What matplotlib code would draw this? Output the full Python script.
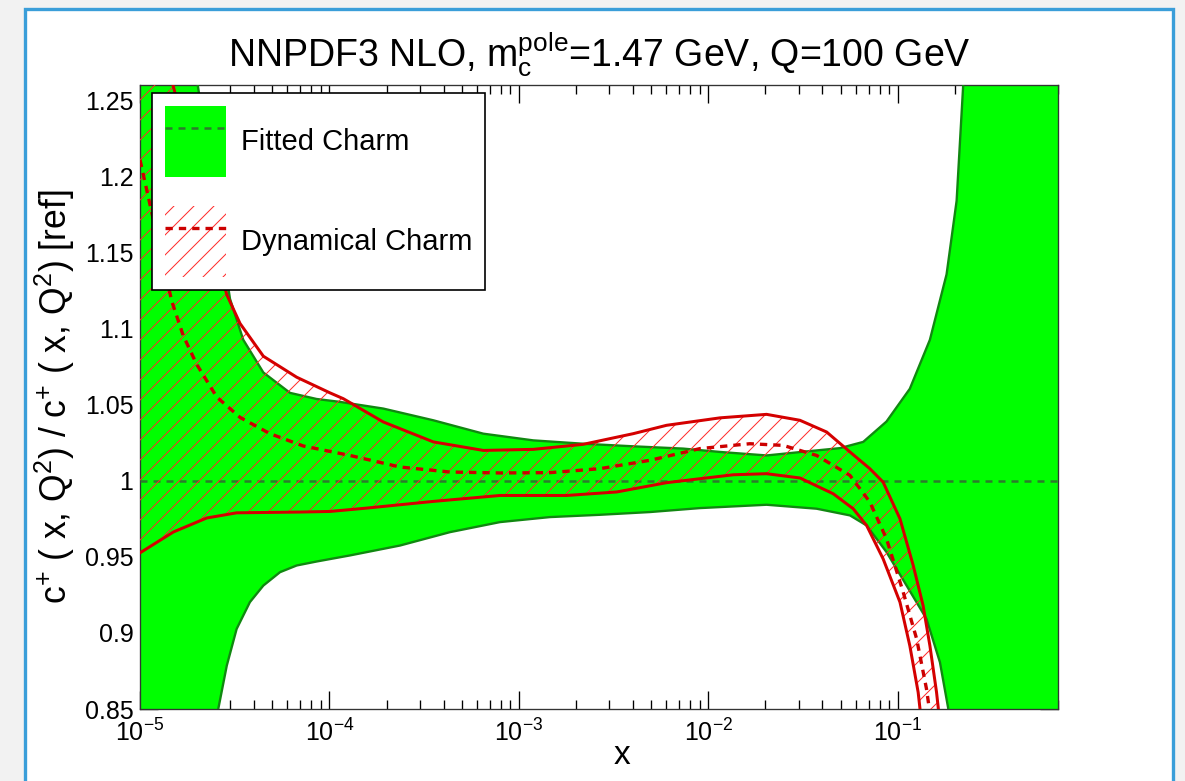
import numpy as np
import matplotlib.pyplot as plt
from matplotlib.patches import Patch, Rectangle
from matplotlib.lines import Line2D
from matplotlib.ticker import FixedLocator, FixedFormatter

plt.rcParams['font.family'] = ['Liberation Sans', 'DejaVu Sans']
plt.rcParams['mathtext.fontset'] = 'custom'
plt.rcParams['mathtext.rm'] = 'Liberation Sans'
plt.rcParams['mathtext.it'] = 'Liberation Sans:italic'
plt.rcParams['mathtext.bf'] = 'Liberation Sans:bold'
plt.rcParams['hatch.linewidth'] = 0.6

# ---- data (log10 x, ratio to ref) ----
# fitted charm band (upper / lower edge), central = 1
fit_hi_logx = [-5.0, -4.694, -4.525, -4.455, -4.349, -4.208, -4.068, -3.945, -3.716, -3.452,
               -3.188, -2.924, -2.661, -2.397, -2.133, -1.939, -1.693, -1.429, -1.306, -1.183,
               -1.060, -0.937, -0.831, -0.743, -0.690, -0.655, -0.62, -0.15]
fit_hi = [1.45, 1.259, 1.1195, 1.0926, 1.0711, 1.0577, 1.0537, 1.0518, 1.0474, 1.0397,
          1.0309, 1.0265, 1.0243, 1.0226, 1.0211, 1.0189, 1.0166, 1.0199, 1.0214, 1.0255,
          1.0389, 1.0604, 1.0926, 1.1356, 1.1839, 1.2605, 1.35, 1.60]

fit_lo_logx = [-5.0, -4.62, -4.587, -4.542, -4.490, -4.420, -4.349, -4.261, -4.173, -4.068,
               -3.892, -3.628, -3.364, -3.100, -2.836, -2.573, -2.309, -2.045, -1.693, -1.429,
               -1.253, -1.165, -1.060, -0.954, -0.849, -0.778, -0.735, -0.70, -0.15]
fit_lo = [0.60, 0.80, 0.85, 0.8785, 0.9026, 0.9202, 0.9311, 0.9399, 0.9443, 0.9469,
          0.9509, 0.9574, 0.9662, 0.9728, 0.9761, 0.9776, 0.9794, 0.9820, 0.9842, 0.9816,
          0.9772, 0.9706, 0.9531, 0.9311, 0.9092, 0.8807, 0.8509, 0.82, 0.50]

fit_cv_logx = [-5.0, -0.15]
fit_cv = [1.0, 1.0]

# dynamical charm band
dyn_hi_logx = [-5.0, -4.826, -4.542, -4.472, -4.349, -4.173, -3.997, -3.927, -3.716, -3.452,
               -3.188, -2.924, -2.661, -2.397, -2.221, -1.939, -1.693, -1.517, -1.376, -1.253,
               -1.148, -1.078, -0.989, -0.919, -0.867, -0.831, -0.796, -0.787, -0.75]
dyn_hi = [1.45, 1.26, 1.1222, 1.1033, 1.0818, 1.068, 1.0577, 1.0539, 1.0386, 1.0255,
          1.0199, 1.0206, 1.0239, 1.0309, 1.0364, 1.0413, 1.0436, 1.0397, 1.0320, 1.0189,
          1.0079, 0.9991, 0.9750, 0.9443, 0.9180, 0.8916, 0.8610, 0.8509, 0.80]

dyn_lo_logx = [-5.0, -4.824, -4.648, -4.490, -4.156, -3.997, -3.804, -3.452, -3.100, -2.748,
               -2.484, -2.221, -2.045, -1.869, -1.693, -1.517, -1.341, -1.236, -1.165, -1.078,
               -0.989, -0.937, -0.893, -0.884, -0.80]
dyn_lo = [0.9526, 0.9663, 0.9755, 0.9789, 0.9794, 0.9798, 0.9820, 0.9864, 0.9903, 0.9903,
          0.9926, 0.9987, 1.0013, 1.0039, 1.0046, 1.0018, 0.9914, 0.9816, 0.9706, 0.9487,
          0.9202, 0.8916, 0.8610, 0.8509, 0.75]

dyn_cv_logx = [-5.0, -4.947, -4.833, -4.772, -4.701, -4.595, -4.472, -4.314, -4.138, -3.892,
               -3.628, -3.364, -3.100, -2.836, -2.573, -2.309, -2.045, -1.781, -1.605, -1.429,
               -1.253, -1.148, -1.060, -0.972, -0.901, -0.849, -0.80]
dyn_cv = [1.2108, 1.1813, 1.1182, 1.0954, 1.0765, 1.0550, 1.0416, 1.0309, 1.0228, 1.0166,
          1.0090, 1.0057, 1.0051, 1.0053, 1.0079, 1.0134, 1.0211, 1.0243, 1.0232, 1.0166,
          1.0035, 0.9860, 0.9618, 0.9268, 0.8961, 0.8632, 0.82]

y_ticks = [0.85, 0.9, 0.95, 1.0, 1.05, 1.1, 1.15, 1.2, 1.25]
y_ticklabels = ['0.85', '0.9', '0.95', '1', '1.05', '1.1', '1.15', '1.2', '1.25']

labels = ['Fitted Charm', 'Dynamical Charm']

# colours
green = '#00ff00'
green_edge = '#118811'
green_dash = '#2d7a2d'
red = '#d40000'
red_hatch = '#ff2a2a'

def xs(lx):
    return 10 ** np.array(lx)

fig = plt.figure(figsize=(1185 / 120, 781 / 120), dpi=120, facecolor='#f2f2f2')
fig.add_artist(Rectangle((25 / 1185, -0.05), 1148 / 1185, 772 / 781 + 0.05,
                         transform=fig.transFigure, fc='white', ec='#3a9ed9', lw=2.0, zorder=0))
ax = fig.add_axes([140 / 1185, 72 / 781, 918 / 1185, 624 / 781])

# fitted band
ax.fill(np.concatenate([xs(fit_hi_logx), xs(fit_lo_logx)[::-1]]),
        np.concatenate([fit_hi, fit_lo[::-1]]), color=green, lw=0, zorder=2)
ax.plot(xs(fit_hi_logx), fit_hi, color=green_edge, lw=1.4, zorder=3)
ax.plot(xs(fit_lo_logx), fit_lo, color=green_edge, lw=1.4, zorder=3)
ax.plot(xs(fit_cv_logx), fit_cv, color=green_dash, lw=1.5, ls=(0, (2.8, 2.4)), zorder=3.5)

# dynamical band
ax.fill(np.concatenate([xs(dyn_hi_logx), xs(dyn_lo_logx)[::-1]]),
        np.concatenate([dyn_hi, dyn_lo[::-1]]), facecolor='none', edgecolor=red_hatch,
        hatch='//', lw=0, zorder=4)
ax.plot(xs(dyn_hi_logx), dyn_hi, color=red, lw=1.8, zorder=5)
ax.plot(xs(dyn_lo_logx), dyn_lo, color=red, lw=1.8, zorder=5)
ax.plot(xs(dyn_cv_logx), dyn_cv, color='#cc0000', lw=2.0, ls=(0, (2.2, 1.8)), zorder=5)

ax.set_xscale('log')
ax.set_xlim(1e-5, 0.7)
ax.set_ylim(0.85, 1.26)
ax.yaxis.set_major_locator(FixedLocator(y_ticks))
ax.yaxis.set_major_formatter(FixedFormatter(y_ticklabels))

ax.tick_params(which='both', direction='in', top=True, right=True, color='black', width=0.8)
ax.tick_params(which='major', length=11, labelsize=15)
ax.tick_params(axis='x', which='major', pad=6)
ax.tick_params(axis='y', which='major', pad=4)
ax.tick_params(which='minor', length=5.5)
for s in ax.spines.values():
    s.set_linewidth(0.8)
    s.set_color('#333333')

ax.set_title(r'NNPDF3 NLO, m$_{\mathrm{c}}^{\mathrm{pole}}$=1.47 GeV, Q=100 GeV',
             fontsize=22.5, pad=11)
ax.set_xlabel('x', fontsize=20)
ax.xaxis.set_label_coords(0.525, -0.05)
ax.set_ylabel(r'c$^{+}$ ( x, Q$^{2}$) / c$^{+}$ ( x, Q$^{2}$) [ref]', fontsize=21.3)
ax.yaxis.set_label_coords(-0.069, 0.5)

h1 = (Patch(facecolor=green, edgecolor='none'),
      Line2D([], [], color=green_dash, lw=1.5, ls=(0, (2.8, 2.4))))
h2 = (Patch(facecolor='white', edgecolor=red_hatch, hatch='//', lw=0),
      Line2D([], [], color='#cc0000', lw=2.0, ls=(0, (2.2, 1.8))))
leg = ax.legend([h1, h2], labels, loc='upper left', bbox_to_anchor=(0.0131, 0.9872),
                fontsize=17.5, handlelength=2.1, handleheight=3.37, labelspacing=1.0,
                borderpad=0.45, handletextpad=0.5, borderaxespad=0, frameon=True,
                fancybox=False, framealpha=1, edgecolor='black')
leg.get_frame().set_linewidth(1.0)
leg.set_zorder(10)

fig.savefig('out.png', dpi=120, facecolor=fig.get_facecolor())
